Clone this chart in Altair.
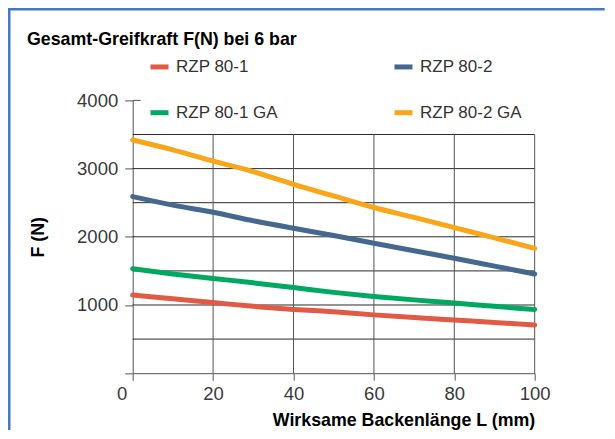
import altair as alt
import pandas as pd

# ---- data ----
lengths = [0, 10, 20, 30, 40, 50, 60, 70, 80, 90, 100]
series_names = ["RZP 80-1", "RZP 80-2", "RZP 80-1 GA", "RZP 80-2 GA"]
rzp80_1 = [1145, 1090, 1035, 980, 935, 900, 855, 815, 780, 745, 705]
rzp80_2 = [2590, 2465, 2360, 2235, 2125, 2020, 1905, 1795, 1685, 1570, 1455]
rzp80_1_ga = [1530, 1455, 1390, 1325, 1255, 1185, 1125, 1075, 1030, 980, 935]
rzp80_2_ga = [3420, 3275, 3110, 2955, 2770, 2600, 2430, 2285, 2135, 1985, 1830]
colors = ["#E05A44", "#46688F", "#00A862", "#F9A61A"]
# legend entries are filled column by column (2 rows x 2 columns)
legend_order = ["RZP 80-1", "RZP 80-1 GA", "RZP 80-2", "RZP 80-2 GA"]

x_ticks = [0, 20, 40, 60, 80, 100]
y_ticks = [0, 1000, 2000, 3000, 4000]
h_grid = [500, 1000, 1500, 2000, 2500, 3000, 3500]
v_grid = [20, 40, 60, 80, 100]

title_text = "Gesamt-Greifkraft F(N) bei 6 bar"
x_title = "Wirksame Backenlänge L (mm)"
y_title = "F (N)"

FONT = "Liberation Sans, Arial, sans-serif"

W, H = 402, 272.8
PAD = {"left": 124.7, "top": 92.4, "right": 70, "bottom": 57}

rows = []
for name, vals in zip(series_names, [rzp80_1, rzp80_2, rzp80_1_ga, rzp80_2_ga]):
    for L, v in zip(lengths, vals):
        rows.append({"L": L, "F": v, "Serie": name})
df = pd.DataFrame(rows)

hg = pd.DataFrame({"F": h_grid, "x0": 0, "x1": 100})
vg = pd.DataFrame({"L": v_grid, "y0": 0, "y1": 3500})
top_tick = pd.DataFrame({"F": [y_ticks[-1]]})
one = pd.DataFrame({"a": [0]})

xscale = alt.Scale(domain=[0, 100], nice=False)
yscale = alt.Scale(domain=[0, 4000], nice=False)

grid_color = "#2a2a2a"

hgrid = alt.Chart(hg).mark_rule(color=grid_color, strokeWidth=1).encode(
    x=alt.X("x0:Q", scale=xscale), x2="x1:Q", y=alt.Y("F:Q", scale=yscale)
)
vgrid = alt.Chart(vg).mark_rule(color="#555555", strokeWidth=1).encode(
    x=alt.X("L:Q", scale=xscale), y=alt.Y("y0:Q", scale=yscale), y2="y1:Q"
)
toptick = alt.Chart(top_tick).mark_rule(color="#555555", strokeWidth=1).encode(
    y=alt.Y("F:Q", scale=yscale), x=alt.value(0), x2=alt.value(8)
)

lines = alt.Chart(df).mark_line(
    strokeWidth=5, strokeCap="round", strokeJoin="round", interpolate="monotone"
).encode(
    x=alt.X(
        "L:Q",
        scale=xscale,
        axis=alt.Axis(
            values=x_ticks,
            format="d",
            labelFlush=False,
            labelOffset=alt.condition("datum.value == 0", alt.value(-11), alt.value(0)),
            title=x_title,
            titleX=W,
            titleY=52.5,
            titleAlign="right",
            titleBaseline="alphabetic",
            titleFont=FONT,
            titleFontSize=17.8,
            titleFontWeight="bold",
            titleColor="#000000",
            labelFont=FONT,
            labelFontSize=18.5,
            labelColor="#3a3a3a",
            labelPadding=4,
            tickSize=7,
            tickColor="#555555",
            domainColor="#555555",
            grid=False,
        ),
    ),
    y=alt.Y(
        "F:Q",
        scale=yscale,
        axis=alt.Axis(
            values=y_ticks,
            format="d",
            labelExpr="datum.value == 0 ? '' : datum.label",
            title=y_title,
            titleX=-94.7,
            titleY=H / 2,
            titleAngle=270,
            titleAlign="center",
            titleBaseline="middle",
            titleFont=FONT,
            titleFontSize=17.8,
            titleFontWeight="bold",
            titleColor="#000000",
            labelFont=FONT,
            labelFontSize=18.5,
            labelColor="#3a3a3a",
            labelPadding=7,
            tickSize=8,
            tickColor="#555555",
            domainColor="#555555",
            grid=False,
        ),
    ),
    color=alt.Color(
        "Serie:N",
        scale=alt.Scale(domain=series_names, range=colors),
        legend=alt.Legend(
            title=None,
            values=legend_order,
            orient="none",
            legendX=15.3,
            legendY=-45.2,
            columns=2,
            symbolType="stroke",
            symbolStrokeWidth=5,
            symbolSize=324,
            labelFont=FONT,
            labelFontSize=17,
            labelColor="#333333",
            labelOffset=5,
            columnPadding=105,
            rowPadding=24,
            padding=0,
        ),
    ),
)

title = alt.Chart(one).mark_text(
    text=title_text, font=FONT, fontSize=17.8, fontWeight="bold",
    align="left", baseline="alphabetic", color="#000000",
).encode(x=alt.value(-105.7), y=alt.value(-55.4))

border_left = alt.Chart(one).mark_rule(color="#4A76C4", strokeWidth=2.5).encode(
    x=alt.value(-PAD["left"] + 1.25), y=alt.value(-PAD["top"]), y2=alt.value(H + PAD["bottom"])
)
border_top = alt.Chart(one).mark_rule(color="#4A76C4", strokeWidth=2.5).encode(
    y=alt.value(-PAD["top"] + 1.25), x=alt.value(-PAD["left"]), x2=alt.value(W + PAD["right"])
)

chart = alt.layer(
    hgrid, vgrid, toptick, lines, title, border_left, border_top
).properties(
    width=W, height=H,
    autosize=alt.AutoSizeParams(type="none"),
    padding=PAD,
    background="white",
).configure_view(stroke="transparent")

chart.save("out.html", embed_options={"renderer": "svg", "actions": False})
